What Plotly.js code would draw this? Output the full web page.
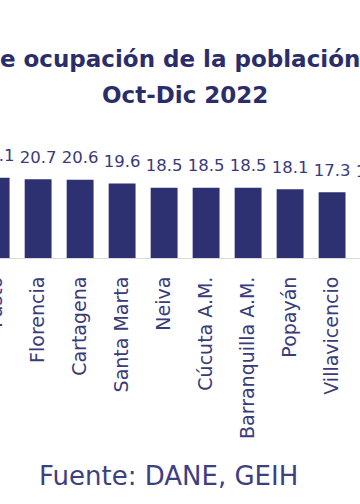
<!DOCTYPE html>
<html><head><meta charset="utf-8">
<script src="https://cdn.plot.ly/plotly-3.0.1.min.js"></script>
<style>
html,body{margin:0;padding:0;overflow:hidden;width:360px;height:504px;background:#fff}
#chart{position:absolute;left:-95px;top:0;width:560px;height:504px}
</style>
</head><body><div id="chart"></div>
<script>
// Data
const ciudades = ["Pasto","Florencia","Cartagena","Santa Marta","Neiva","Cúcuta A.M.","Barranquilla A.M.","Popayán","Villavicencio","Ibagué"];
const tasa = [21.1, 20.7, 20.6, 19.6, 18.5, 18.5, 18.5, 18.1, 17.3, 17.1];
const etiquetas = tasa.map(v => v.toFixed(1));
const titulo1 = "Tasa de ocupación de la población joven";
const titulo2 = "Oct-Dic 2022";
const fuente = "Fuente: DANE, GEIH";

// layout helpers (page px -> paper coords)
const DIV_LEFT = -95, DIV_W = 560, PLOT_TOP = 144, PLOT_BOTTOM = 258;
const PH = PLOT_BOTTOM - PLOT_TOP;
const px = x => (x - DIV_LEFT) / DIV_W;
const py = y => (PLOT_BOTTOM - y) / PH;

const navy = '#2d3071';
const textNavy = '#393b7a';

const traces = [
  {
    type: 'bar', x: ciudades, y: tasa,
    marker: {color: navy, line: {width: 0}},
    hoverinfo: 'skip'
  },
  {
    type: 'scatter', mode: 'markers+text', x: ciudades, y: tasa,
    text: etiquetas, textposition: 'top center', cliponaxis: false,
    marker: {size: 18, opacity: 0},
    textfont: {family: 'DejaVu Sans', size: 16.5, color: textNavy},
    hoverinfo: 'skip', showlegend: false
  }
];

const layout = {
  width: DIV_W, height: 504,
  margin: {l: 0, r: 0, t: PLOT_TOP, b: 504 - PLOT_BOTTOM, pad: 0},
  paper_bgcolor: '#ffffff', plot_bgcolor: '#ffffff',
  showlegend: false, bargap: 0.36,
  xaxis: {
    type: 'category', range: [-2.17, 11.165],
    tickangle: -90, ticks: '', ticklabelstandoff: 10,
    tickfont: {family: 'DejaVu Sans', size: 19, color: textNavy},
    showline: true, linecolor: '#d9d9d9', linewidth: 1,
    showgrid: false, zeroline: false, fixedrange: true, automargin: false
  },
  yaxis: {range: [0, 30], visible: false, fixedrange: true, automargin: false},
  annotations: [
    {text: titulo1, xref: 'paper', yref: 'paper', x: px(1 - 85), y: py(59),
     xanchor: 'left', yanchor: 'middle', showarrow: false,
     font: {family: 'DejaVu Sans', size: 23, color: '#2b2d6b', weight: 'bold'}},
    {text: titulo2, xref: 'paper', yref: 'paper', x: px(185), y: py(95),
     xanchor: 'center', yanchor: 'middle', showarrow: false,
     font: {family: 'DejaVu Sans', size: 23, color: '#2b2d6b', weight: 'bold'}},
    {text: fuente, xref: 'paper', yref: 'paper', x: px(168.5), y: py(476),
     xanchor: 'center', yanchor: 'middle', showarrow: false,
     font: {family: 'DejaVu Sans', size: 26, color: '#3d4080'}}
  ]
};

Plotly.newPlot('chart', traces, layout, {displayModeBar: false, staticPlot: true});
</script>
</body></html>
